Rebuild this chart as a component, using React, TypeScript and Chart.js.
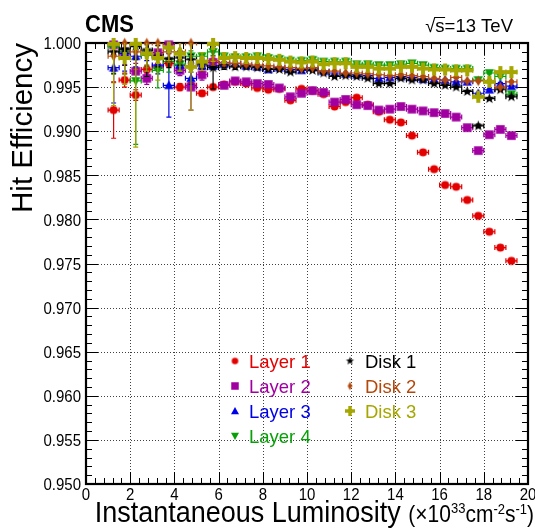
import React, { useEffect, useRef } from "react";
import { Chart, registerables } from "chart.js";
Chart.register(...registerables);

// ---------------- DATA ----------------
const lumi = [1.25, 1.75, 2.25, 2.75, 3.25, 3.75, 4.25, 4.75, 5.25, 5.75, 6.25, 6.75, 7.25, 7.75, 8.25, 8.75, 9.25, 9.75, 10.25, 10.75, 11.25, 11.75, 12.25, 12.75, 13.25, 13.75, 14.25, 14.75, 15.25, 15.75, 16.25, 16.75, 17.25, 17.75, 18.25, 18.75, 19.25];
const lumiHalfBin = 0.25;

const layer1 = [0.9924, 0.9958, 0.9941, 0.997, 0.9973, 0.9977, 0.995, 0.9952, 0.9943, 0.995, 0.9953, 0.9956, 0.9954, 0.9949, 0.9947, 0.9948, 0.9935, 0.9948, 0.9946, 0.9942, 0.9928, 0.9933, 0.9938, 0.993, 0.9922, 0.9913, 0.991, 0.9895, 0.9876, 0.9857, 0.9839, 0.9837, 0.9822, 0.9804, 0.9786, 0.9768, 0.9753];
const layer2 = [0.9998, 0.999, 0.9968, 0.996, 0.9989, 0.9998, 0.9969, 0.995, 0.9964, 0.9978, 0.9952, 0.9957, 0.9956, 0.9954, 0.9953, 0.9949, 0.9939, 0.9943, 0.9946, 0.9944, 0.9933, 0.9936, 0.993, 0.9929, 0.9924, 0.9925, 0.9928, 0.9925, 0.9923, 0.9921, 0.992, 0.9916, 0.9904, 0.9878, 0.9896, 0.9902, 0.9895];
const layer3 = [0.9972, 0.9988, 0.9985, 0.999, 0.9975, 0.9952, 0.9975, 0.996, 0.9974, 0.9974, 0.9976, 0.9977, 0.9974, 0.9973, 0.997, 0.9972, 0.997, 0.9969, 0.9972, 0.9968, 0.9966, 0.9965, 0.9964, 0.9963, 0.996, 0.9961, 0.9962, 0.9961, 0.9959, 0.9959, 0.9958, 0.9956, 0.9956, 0.9943, 0.9947, 0.9954, 0.9951];
const layer4 = [0.9996, 0.999, 0.9957, 0.9986, 0.9969, 0.9979, 0.9976, 0.9985, 0.9985, 0.999, 0.9985, 0.9984, 0.9984, 0.9985, 0.9983, 0.9982, 0.998, 0.998, 0.9981, 0.9979, 0.9979, 0.9979, 0.9976, 0.9976, 0.9975, 0.9975, 0.9976, 0.9977, 0.9975, 0.9972, 0.9971, 0.9971, 0.9971, 0.9958, 0.9966, 0.9962, 0.9942];
const disk1 = [0.999, 0.9993, 0.9996, 0.9992, 0.9985, 0.9982, 0.9983, 0.9981, 0.9976, 0.9972, 0.9974, 0.9973, 0.9973, 0.9972, 0.997, 0.997, 0.9967, 0.997, 0.9969, 0.9966, 0.9962, 0.9963, 0.9962, 0.996, 0.9954, 0.9954, 0.996, 0.9958, 0.9958, 0.9954, 0.9952, 0.995, 0.9945, 0.9906, 0.9937, 0.9947, 0.9939];
const disk2 = [0.9985, 1.0, 0.999, 1.0, 1.0, 0.999, 0.999, 1.0, 0.9978, 0.998, 0.9978, 0.9977, 0.9976, 0.9975, 0.9974, 0.9973, 0.9972, 0.9971, 0.9972, 0.9968, 0.9968, 0.9966, 0.9966, 0.9965, 0.9964, 0.9963, 0.9964, 0.9963, 0.9962, 0.996, 0.9958, 0.9961, 0.9957, 0.9957, 0.9957, 0.995, 0.9956];
const disk3 = [0.9999, 0.9983, 0.9999, 0.9988, 0.9983, 0.9995, 0.9988, 0.9973, 0.9979, 0.9999, 0.9983, 0.9984, 0.9983, 0.9983, 0.9982, 0.9981, 0.9979, 0.9978, 0.9979, 0.9976, 0.9977, 0.9977, 0.9973, 0.9973, 0.9971, 0.9971, 0.9973, 0.9973, 0.9971, 0.997, 0.997, 0.9969, 0.9969, 0.9939, 0.9956, 0.9967, 0.9967];

const layer1Err = [0.0032, 0.0008, 0.0006, 0.0005, 0.0004, 0.0004, 0.0004, 0.0003, 0.0003, 0.0003, 0.0002, 0.0002, 0.0002, 0.0002, 0.0002, 0.0001, 0.0001, 0.0001, 0.0001, 0.0001, 0.0001, 0.0001, 0.0001, 0.0001, 0.0001, 0.0001, 0.0001, 0.0001, 0.0001, 0.0001, 0.0001, 0.0001, 0.0001, 0.0001, 0.0001, 0.0001, 0.0001];
const layer2Err = [0.003, 0.0015, 0.0009, 0.0007, 0.0012, 0.002, 0.0006, 0.0026, 0.0006, 0.0005, 0.0003, 0.0002, 0.0002, 0.0002, 0.0002, 0.0001, 0.0001, 0.0001, 0.0001, 0.0001, 0.0001, 0.0001, 0.0001, 0.0001, 0.0001, 0.0001, 0.0001, 0.0001, 0.0001, 0.0001, 0.0001, 0.0001, 0.0001, 0.0001, 0.0001, 0.0001, 0.0001];
const layer3Err = [0.004, 0.002, 0.0012, 0.001, 0.001, 0.0036, 0.0008, 0.0007, 0.0004, 0.0004, 0.0003, 0.0002, 0.0002, 0.0002, 0.0002, 0.0001, 0.0001, 0.0001, 0.0001, 0.0001, 0.0001, 0.0001, 0.0001, 0.0001, 0.0001, 0.0001, 0.0001, 0.0001, 0.0001, 0.0001, 0.0001, 0.0001, 0.0001, 0.0001, 0.0001, 0.0001, 0.0001];
const layer4Err = [0.003, 0.0025, 0.0072, 0.0012, 0.002, 0.0012, 0.0008, 0.0006, 0.0004, 0.0004, 0.0003, 0.0002, 0.0002, 0.0002, 0.0002, 0.0001, 0.0001, 0.0001, 0.0001, 0.0001, 0.0001, 0.0001, 0.0001, 0.0001, 0.0001, 0.0001, 0.0001, 0.0001, 0.0001, 0.0001, 0.0001, 0.0001, 0.0001, 0.0001, 0.0001, 0.0001, 0.0001];
const disk1Err = [0.0025, 0.0018, 0.0015, 0.003, 0.0012, 0.001, 0.0008, 0.0006, 0.0006, 0.0024, 0.0004, 0.0003, 0.0002, 0.0002, 0.0002, 0.0001, 0.0001, 0.0001, 0.0001, 0.0001, 0.0001, 0.0001, 0.0001, 0.0001, 0.0001, 0.0001, 0.0001, 0.0001, 0.0001, 0.0001, 0.0001, 0.0001, 0.0001, 0.0002, 0.0001, 0.0001, 0.0001];
const disk2Err = [0.003, 0.0035, 0.002, 0.0028, 0.0015, 0.0012, 0.001, 0.003, 0.0006, 0.0005, 0.0004, 0.0003, 0.0002, 0.0002, 0.0002, 0.0001, 0.0001, 0.0001, 0.0001, 0.0001, 0.0001, 0.0001, 0.0001, 0.0001, 0.0001, 0.0001, 0.0001, 0.0001, 0.0001, 0.0001, 0.0001, 0.0001, 0.0001, 0.0001, 0.0001, 0.0001, 0.0001];
const disk3Err = [0.007, 0.003, 0.0117, 0.002, 0.0025, 0.0015, 0.002, 0.0049, 0.001, 0.002, 0.0005, 0.0004, 0.0002, 0.0002, 0.0002, 0.0001, 0.0001, 0.0001, 0.0001, 0.0001, 0.0001, 0.0001, 0.0001, 0.0001, 0.0001, 0.0001, 0.0001, 0.0001, 0.0001, 0.0001, 0.0001, 0.0001, 0.0001, 0.0001, 0.0001, 0.0001, 0.0001];

const seriesLabels = ["Layer 1", "Layer 2", "Layer 3", "Layer 4", "Disk 1", "Disk 2", "Disk 3"];
const xTickLabels = ["0", "2", "4", "6", "8", "10", "12", "14", "16", "18", "20"];
const yTickLabels = ["0.950", "0.955", "0.960", "0.965", "0.970", "0.975", "0.980", "0.985", "0.990", "0.995", "1.000"];

const X_MIN = 0, X_MAX = 20, Y_MIN = 0.95, Y_MAX = 1.0;

const FONT = '"Liberation Sans", Arial, Helvetica, sans-serif';

// ---------------- MARKERS ----------------
function makeMarker(shape: string, color: string, s: number): HTMLCanvasElement {
  const n = Math.ceil(s) + 4;
  const c = document.createElement("canvas");
  c.width = n;
  c.height = n;
  const ctx = c.getContext("2d")!;
  const m = n / 2;
  const r = s / 2;
  ctx.fillStyle = color;
  ctx.beginPath();
  if (shape === "circle") {
    ctx.arc(m, m, r, 0, Math.PI * 2);
  } else if (shape === "square") {
    ctx.rect(m - r, m - r, s, s);
  } else if (shape === "triUp") {
    ctx.moveTo(m, m - r);
    ctx.lineTo(m + r, m + r * 0.8);
    ctx.lineTo(m - r, m + r * 0.8);
    ctx.closePath();
  } else if (shape === "triDown") {
    ctx.moveTo(m, m + r);
    ctx.lineTo(m + r, m - r * 0.8);
    ctx.lineTo(m - r, m - r * 0.8);
    ctx.closePath();
  } else if (shape === "star") {
    for (let k = 0; k < 10; k++) {
      const ang = -Math.PI / 2 + (k * Math.PI) / 5;
      const rr = k % 2 === 0 ? r : r * 0.42;
      const px = m + rr * Math.cos(ang);
      const py = m + rr * Math.sin(ang);
      if (k === 0) ctx.moveTo(px, py);
      else ctx.lineTo(px, py);
    }
    ctx.closePath();
  } else if (shape === "diamond") {
    ctx.moveTo(m, m - r);
    ctx.lineTo(m + r * 0.55, m);
    ctx.lineTo(m, m + r);
    ctx.lineTo(m - r * 0.55, m);
    ctx.closePath();
  } else if (shape === "cross") {
    const w = s * 0.17;
    ctx.moveTo(m - w, m - r);
    ctx.lineTo(m + w, m - r);
    ctx.lineTo(m + w, m - w);
    ctx.lineTo(m + r, m - w);
    ctx.lineTo(m + r, m + w);
    ctx.lineTo(m + w, m + w);
    ctx.lineTo(m + w, m + r);
    ctx.lineTo(m - w, m + r);
    ctx.lineTo(m - w, m + w);
    ctx.lineTo(m - r, m + w);
    ctx.lineTo(m - r, m - w);
    ctx.lineTo(m - w, m - w);
    ctx.closePath();
  }
  ctx.fill();
  return c;
}

type Series = {
  label: string;
  values: number[];
  errors: number[];
  color: string;
  shape: string;
  size: number;
  lsize: number;
};

const seriesDefs: Series[] = [
  { label: seriesLabels[0], values: layer1, errors: layer1Err, color: "#e20000", shape: "circle", size: 8.2, lsize: 6.5 },
  { label: seriesLabels[1], values: layer2, errors: layer2Err, color: "#a000a0", shape: "square", size: 8.6, lsize: 7.5 },
  { label: seriesLabels[2], values: layer3, errors: layer3Err, color: "#0000e6", shape: "triUp", size: 9.5, lsize: 8 },
  { label: seriesLabels[3], values: layer4, errors: layer4Err, color: "#08a008", shape: "triDown", size: 9.5, lsize: 8 },
  { label: seriesLabels[4], values: disk1, errors: disk1Err, color: "#000000", shape: "star", size: 11, lsize: 8.5 },
  { label: seriesLabels[5], values: disk2, errors: disk2Err, color: "#b4480c", shape: "diamond", size: 10.5, lsize: 8.5 },
  { label: seriesLabels[6], values: disk3, errors: disk3Err, color: "#a6a600", shape: "cross", size: 12, lsize: 10 },
];

function drawText(
  ctx: CanvasRenderingContext2D,
  s: string,
  x: number,
  y: number,
  font: string,
  color: string,
  align: CanvasTextAlign,
  sy = 1
) {
  ctx.save();
  ctx.translate(x, y);
  ctx.scale(1, sy);
  ctx.font = font;
  ctx.fillStyle = color;
  ctx.textAlign = align;
  ctx.textBaseline = "alphabetic";
  ctx.fillText(s, 0, 0);
  ctx.restore();
}

const errorBarPlugin = {
  id: "errorBars",
  beforeDatasetDraw(chart: any, args: any) {
    const s = seriesDefs[args.index];
    if (!s) return;
    const ctx: CanvasRenderingContext2D = chart.ctx;
    const xs = chart.scales.x;
    const ys = chart.scales.y;
    const a = chart.chartArea;
    ctx.save();
    ctx.beginPath();
    ctx.rect(a.left, a.top, a.right - a.left, a.bottom - a.top);
    ctx.clip();
    ctx.strokeStyle = s.color;
    ctx.lineWidth = 1.2;
    const cap = 2.5;
    ctx.beginPath();
    for (let i = 0; i < lumi.length; i++) {
      const cx = xs.getPixelForValue(lumi[i]);
      const cy = ys.getPixelForValue(s.values[i]);
      const x0 = xs.getPixelForValue(lumi[i] - lumiHalfBin);
      const x1 = xs.getPixelForValue(lumi[i] + lumiHalfBin);
      const y0 = ys.getPixelForValue(s.values[i] + s.errors[i]);
      const y1 = ys.getPixelForValue(s.values[i] - s.errors[i]);
      ctx.moveTo(x0, cy);
      ctx.lineTo(x1, cy);
      ctx.moveTo(x0, cy - cap);
      ctx.lineTo(x0, cy + cap);
      ctx.moveTo(x1, cy - cap);
      ctx.lineTo(x1, cy + cap);
      ctx.moveTo(cx, y0);
      ctx.lineTo(cx, y1);
      ctx.moveTo(cx - cap, y0);
      ctx.lineTo(cx + cap, y0);
      ctx.moveTo(cx - cap, y1);
      ctx.lineTo(cx + cap, y1);
    }
    ctx.stroke();
    ctx.restore();
  },
};

const frameBackPlugin = {
  id: "frameBack",
  beforeDatasetsDraw(chart: any) {
    const ctx: CanvasRenderingContext2D = chart.ctx;
    const xs = chart.scales.x;
    const ys = chart.scales.y;
    const a = chart.chartArea;
    ctx.save();
    ctx.strokeStyle = "rgba(0,0,0,0.75)";
    ctx.lineWidth = 1;
    ctx.setLineDash([1, 2]);
    ctx.beginPath();
    for (let k = 1; k < xTickLabels.length - 1; k++) {
      const v = Number(xTickLabels[k]);
      const px = Math.round(xs.getPixelForValue(v)) + 0.5;
      ctx.moveTo(px, a.top);
      ctx.lineTo(px, a.bottom);
    }
    for (let k = 1; k < yTickLabels.length - 1; k++) {
      const v = Number(yTickLabels[k]);
      const py = Math.round(ys.getPixelForValue(v)) + 0.5;
      ctx.moveTo(a.left, py);
      ctx.lineTo(a.right, py);
    }
    ctx.stroke();
    ctx.setLineDash([]);

    ctx.strokeStyle = "#000";
    ctx.lineWidth = 1;
    ctx.beginPath();
    const major = 12, minor = 6;
    for (let k = 0; k <= 50; k++) {
      const v = X_MIN + k * 0.4;
      const px = Math.round(xs.getPixelForValue(v)) + 0.5;
      const len = k % 5 === 0 ? major : minor;
      ctx.moveTo(px, a.bottom);
      ctx.lineTo(px, a.bottom - len);
      ctx.moveTo(px, a.top);
      ctx.lineTo(px, a.top + len);
    }
    for (let k = 0; k <= 50; k++) {
      const v = Y_MIN + k * 0.001;
      const py = Math.round(ys.getPixelForValue(v)) + 0.5;
      const len = k % 5 === 0 ? major : minor;
      ctx.moveTo(a.left, py);
      ctx.lineTo(a.left + len, py);
      ctx.moveTo(a.right, py);
      ctx.lineTo(a.right - len, py);
    }
    ctx.stroke();

    ctx.lineWidth = 2.2;
    ctx.strokeRect(a.left, a.top, a.right - a.left, a.bottom - a.top);
    ctx.restore();
  },
  afterDatasetsDraw(chart: any) {
    const ctx: CanvasRenderingContext2D = chart.ctx;
    const xs = chart.scales.x;
    const ys = chart.scales.y;
    const a = chart.chartArea;
    ctx.save();
    const tickFont = `15px ${FONT}`;
    for (let k = 0; k < yTickLabels.length; k++) {
      const py = ys.getPixelForValue(Number(yTickLabels[k]));
      drawText(ctx, yTickLabels[k], a.left - 5, py + 6.2, tickFont, "#000", "right", 1.15);
    }
    for (let k = 0; k < xTickLabels.length; k++) {
      const px = xs.getPixelForValue(Number(xTickLabels[k]));
      drawText(ctx, xTickLabels[k], px, 500, tickFont, "#000", "center", 1.15);
    }

    ctx.save();
    ctx.translate(32, a.top);
    ctx.rotate(-Math.PI / 2);
    ctx.font = `29.5px ${FONT}`;
    ctx.fillStyle = "#000";
    ctx.textAlign = "right";
    ctx.textBaseline = "alphabetic";
    ctx.fillText("Hit Efficiency", 0, 0);
    ctx.restore();

    const pieces = [
      { t: "Instantaneous Luminosity ", size: 27, dy: 0 },
      { t: "(\u00d710", size: 21, dy: 0 },
      { t: "33", size: 13, dy: -9 },
      { t: "cm", size: 21, dy: 0 },
      { t: "-2", size: 13, dy: -8 },
      { t: "s", size: 21, dy: 0 },
      { t: "-1", size: 13, dy: -8 },
      { t: ")", size: 21, dy: 0 },
    ];
    let total = 0;
    const widths = pieces.map((p) => {
      ctx.font = `${p.size}px ${FONT}`;
      const w = ctx.measureText(p.t).width;
      total += w;
      return w;
    });
    let xx = 534 - total;
    const base = 522;
    pieces.forEach((p, i) => {
      drawText(ctx, p.t, xx, base + p.dy, `${p.size}px ${FONT}`, "#000", "left", 1.1);
      xx += widths[i];
    });

    drawText(ctx, "CMS", 85, 31.5, `bold 22px ${FONT}`, "#000", "left", 1.05);

    ctx.font = `18.5px ${FONT}`;
    const wRad = ctx.measureText("\u221a").width;
    const wS = ctx.measureText("s").width;
    const wRest = ctx.measureText("s=13 TeV").width;
    const start = 513 - wRad - wRest;
    drawText(ctx, "\u221a", start, 31.5, `18.5px ${FONT}`, "#000", "left");
    drawText(ctx, "s=13 TeV", start + wRad, 31.5, `18.5px ${FONT}`, "#000", "left");
    ctx.strokeStyle = "#000";
    ctx.lineWidth = 1;
    ctx.beginPath();
    ctx.moveTo(start + wRad - 1, 17.5);
    ctx.lineTo(start + wRad + wS + 0.5, 17.5);
    ctx.stroke();

    const rows = [361, 386, 411, 436];
    seriesDefs.forEach((s, i) => {
      const col = i < 4 ? 0 : 1;
      const row = i < 4 ? i : i - 4;
      const mx = col === 0 ? 235 : 350;
      const tx = col === 0 ? 249 : 365;
      const my = rows[row];
      const img = makeMarker(s.shape, s.color, s.lsize);
      ctx.drawImage(img, mx - img.width / 2, my - img.height / 2);
      drawText(ctx, s.label, tx, my + 6.6, `18.5px ${FONT}`, s.color, "left");
    });
    ctx.restore();
  },
};

export default function App() {
  const ref = useRef<HTMLCanvasElement>(null);
  useEffect(() => {
    const canvas = ref.current;
    if (!canvas) return;
    const datasets = seriesDefs.map((s, i) => ({
      label: s.label,
      data: lumi.map((x, j) => ({ x, y: s.values[j] })),
      pointStyle: makeMarker(s.shape, s.color, s.size),
      pointRadius: 4,
      pointHoverRadius: 4,
      showLine: false,
      clip: false as any,
      order: seriesDefs.length - i,
    }));
    const chart = new Chart(canvas, {
      type: "scatter",
      data: { datasets: datasets as any },
      options: {
        responsive: false,
        maintainAspectRatio: false,
        animation: false,
        devicePixelRatio: 1,
        layout: { padding: { left: 86, right: 7, top: 43, bottom: 45 } },
        events: [],
        scales: {
          x: { type: "linear", min: X_MIN, max: X_MAX, display: false },
          y: { type: "linear", min: Y_MIN, max: Y_MAX, display: false },
        },
        plugins: {
          legend: { display: false },
          tooltip: { enabled: false },
        },
      },
      plugins: [frameBackPlugin, errorBarPlugin],
    });
    return () => chart.destroy();
  }, []);
  return (
    <div style={{ position: "absolute", left: 0, top: 0, width: 535, height: 529, background: "#fff" }}>
      <canvas ref={ref} width={535} height={529} style={{ display: "block", width: 535, height: 529 }} />
    </div>
  );
}
